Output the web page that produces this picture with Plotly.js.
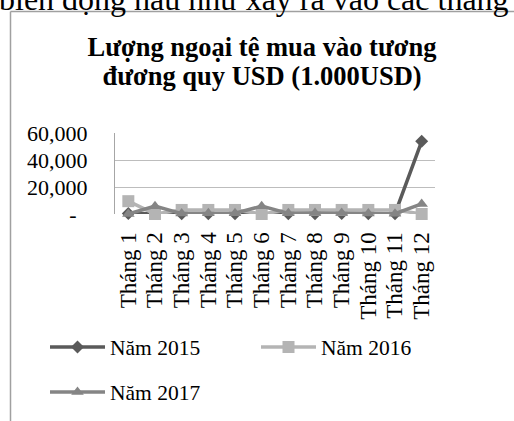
<!DOCTYPE html>
<html>
<head>
<meta charset="utf-8">
<script src="https://cdn.plot.ly/plotly-3.0.1.min.js"></script>
<style>
  html, body { margin: 0; padding: 0; background: #fff; }
  #chart { width: 514px; height: 421px; }
</style>
</head>
<body>
<div id="chart"></div>
<script>
const months = ["Tháng 1","Tháng 2","Tháng 3","Tháng 4","Tháng 5","Tháng 6","Tháng 7","Tháng 8","Tháng 9","Tháng 10","Tháng 11","Tháng 12"];
const y2015 = [300, 500, 200, 200, 200, 500, 200, 200, 300, 200, 200, 53800];
const y2016 = [9500, 0, 3000, 3000, 3000, 0, 3000, 3000, 3000, 3000, 3000, 0];
const y2017 = [0, 5800, 300, 600, 600, 5800, 500, 700, 800, 300, 200, 7500];
const seriesNames = ["Năm 2015", "Năm 2016", "Năm 2017"];
const yTickVals = [0, 20000, 40000, 60000];
const yTickText = ["-\u00a0\u00a0", "20,000", "40,000", "60,000"];

const serif = "Liberation Serif, Times New Roman, serif";

const W = 514, H = 421;
const mL = 115, mR = 79, mT = 133, mB = 207;
const pw = W - mL - mR, ph = H - mT - mB;
const px2x = p => (p - mL) / pw;
const py2y = p => (H - mB - p) / ph;

const traces = [
  {x: months, y: y2015, name: seriesNames[0], type: "scatter", mode: "lines+markers", legend: "legend",
   line: {color: "#5a5a5a", width: 3.5}, marker: {symbol: "diamond", size: 10, color: "#5a5a5a"}, cliponaxis: false},
  {x: months, y: y2016, name: seriesNames[1], type: "scatter", mode: "lines+markers", legend: "legend",
   line: {color: "#b4b4b4", width: 3.5}, marker: {symbol: "square", size: 12, color: "#b4b4b4"}, cliponaxis: false},
  {x: months, y: y2017, name: seriesNames[2], type: "scatter", mode: "lines+markers", legend: "legend2",
   line: {color: "#858585", width: 3.5}, marker: {symbol: "triangle-up", size: 11, color: "#858585"}, cliponaxis: false}
];

const legendCommon = {
  orientation: "h", xanchor: "left", yanchor: "middle",
  itemwidth: 55, entrywidthmode: "pixels",
  font: {family: serif, size: 21.5, color: "#000"},
  bgcolor: "rgba(0,0,0,0)"
};

const layout = {
  width: W, height: H,
  margin: {l: mL, r: mR, t: mT, b: mB, pad: 0, autoexpand: false},
  paper_bgcolor: "#fff", plot_bgcolor: "#fff",
  font: {family: serif, color: "#000", size: 22},
  title: {
    text: "<b><span style=\"font-size:26.5px\">Lượng ngoại tệ mua vào tương</span><br><span style=\"font-size:26.5px\">đương quy USD (1.000USD)</span></b>",
    font: {family: serif, size: 22.3, color: "#000"},
    x: 262 / W, xanchor: "center", xref: "container",
    y: 1 - 56 / H, yanchor: "middle", yref: "container"
  },
  xaxis: {
    type: "category", range: [-0.5, 11.5], tickangle: -90,
    tickmode: "array", tickvals: months, ticktext: months,
    showgrid: false, zeroline: false, showline: false,
    ticks: "outside", ticklen: 8, tickcolor: "rgba(0,0,0,0)",
    tickfont: {family: serif, size: 23, color: "#000"}
  },
  yaxis: {
    range: [0, 60000], tickmode: "array", tickvals: yTickVals, ticktext: yTickText,
    showgrid: true, gridcolor: "#bdbdbd", gridwidth: 1,
    zeroline: false, showline: true, linecolor: "#a6a6a6", linewidth: 1,
    ticks: "outside", ticklen: 22, tickcolor: "rgba(0,0,0,0)",
    tickfont: {family: serif, size: 22, color: "#000"}
  },
  showlegend: true,
  legend: Object.assign({}, legendCommon, {xref: "paper", yref: "paper", x: px2x(45), y: py2y(347), entrywidth: 141}),
  legend2: Object.assign({}, legendCommon, {xref: "container", yref: "container", x: 45 / W, y: 1 - 392 / H, entrywidth: 141}),
  shapes: [
    {type: "line", xref: "paper", yref: "paper", x0: px2x(10.5), x1: px2x(10.5), y0: py2y(11.5), y1: py2y(H + 5),
     line: {color: "#a0a0a0", width: 1.5}},
    {type: "line", xref: "paper", yref: "paper", x0: px2x(10.5), x1: px2x(W + 5), y0: py2y(11.5), y1: py2y(11.5),
     line: {color: "#a0a0a0", width: 1.5}}
  ],
  annotations: [
    {text: "biến động hầu như xảy ra vào các tháng", xref: "paper", yref: "paper",
     x: px2x(-3), xanchor: "left", y: py2y(-1), yanchor: "middle", showarrow: false,
     font: {family: serif, size: 32, color: "#000"}}
  ]
};

Plotly.newPlot("chart", traces, layout, {displayModeBar: false, staticPlot: true});
</script>
</body>
</html>
